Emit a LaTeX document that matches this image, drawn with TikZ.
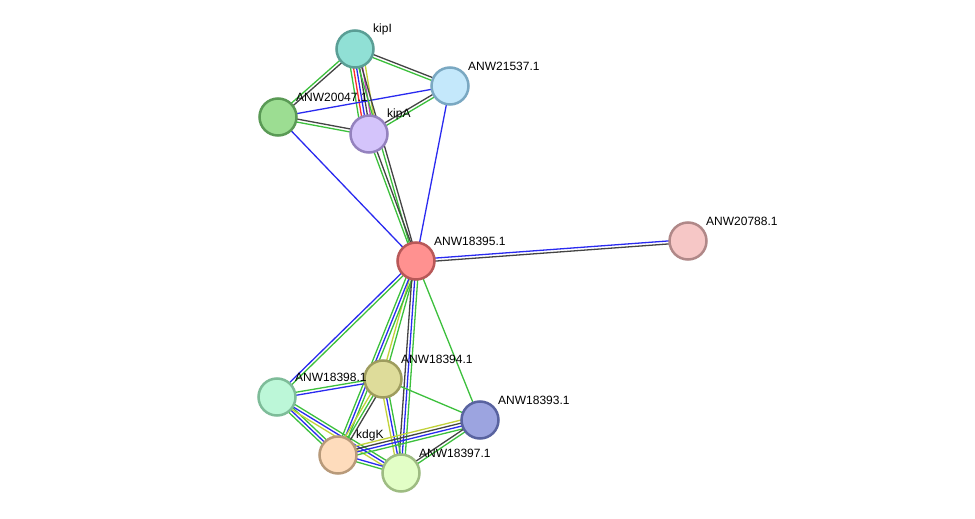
\documentclass[tikz,border=0pt]{standalone}
\usepackage{fontspec}
\setmainfont{Liberation Sans}
\usetikzlibrary{calc}
\pgfdeclarelayer{back}
\pgfdeclarelayer{bg}
\pgfsetlayers{back,bg,main}
\definecolor{eg}{HTML}{3CC03C}
\definecolor{eb}{HTML}{2A2AF0}
\definecolor{ek}{HTML}{444444}
\definecolor{ey}{HTML}{C2D23A}
\definecolor{er}{HTML}{FF2A2A}
\definecolor{em}{HTML}{C03CC0}
\tikzset{
  prot/.style={circle, minimum size=37pt, inner sep=0pt, line width=2.5pt},
  lab/.style={anchor=west, font=\fontsize{12}{13}\selectfont, inner sep=0pt},
  edgeline/.style={line width=1.3pt}
}
\newcommand\medge[4]{%
  \foreach \cc [count=\ii] in {#4} {%
    \pgfmathsetmacro\oo{(\ii-(#3+1)/2)*3}%
    \draw[edgeline, \cc] ($(#1)!\oo pt!90:(#2)$) -- ($(#2)!\oo pt!-90:(#1)$);
  }%
}
\begin{document}
\begin{tikzpicture}[x=1pt,y=-1pt]
\useasboundingbox (0,0) rectangle (975,519);
\begin{pgfonlayer}{back}
\fill[white] (0,0) rectangle (975,519);
\end{pgfonlayer}
% nodes
\node[prot, draw={rgb,255:red,90;green,158;blue,149}, fill={rgb,255:red,144;green,224;blue,213}] (kipI) at (355,49) {};
\node[prot, draw={rgb,255:red,122;green,168;blue,194}, fill={rgb,255:red,196;green,232;blue,251}] (a21537) at (450,86) {};
\node[prot, draw={rgb,255:red,90;green,154;blue,85}, fill={rgb,255:red,156;green,221;blue,146}] (a20047) at (278,117) {};
\node[prot, draw={rgb,255:red,148;green,130;blue,190}, fill={rgb,255:red,212;green,196;blue,251}] (kipA) at (369,134) {};
\node[prot, draw={rgb,255:red,184;green,88;blue,88}, fill={rgb,255:red,255;green,145;blue,144}] (a18395) at (416,261) {};
\node[prot, draw={rgb,255:red,176;green,136;blue,136}, fill={rgb,255:red,246;green,199;blue,198}] (a20788) at (688,241) {};
\node[prot, draw={rgb,255:red,158;green,156;blue,94}, fill={rgb,255:red,222;green,220;blue,154}] (a18394) at (383,379) {};
\node[prot, draw={rgb,255:red,126;green,188;blue,153}, fill={rgb,255:red,188;green,247;blue,216}] (a18398) at (277,397) {};
\node[prot, draw={rgb,255:red,89;green,99;blue,160}, fill={rgb,255:red,156;green,164;blue,224}] (a18393) at (480,420) {};
\node[prot, draw={rgb,255:red,184;green,154;blue,122}, fill={rgb,255:red,254;green,220;blue,188}] (kdgK) at (338,455) {};
\node[prot, draw={rgb,255:red,158;green,188;blue,130}, fill={rgb,255:red,226;green,254;blue,198}] (a18397) at (401,473) {};
% labels
\node[lab] (lkipI) at (373,29) {kipI};
\node[lab] (l21537) at (468,66) {ANW21537.1};
\node[lab] (l20047) at (296,97) {ANW20047.1};
\node[lab] (lkipA) at (387,114) {kipA};
\node[lab] (l18395) at (434,241) {ANW18395.1};
\node[lab] (l20788) at (706,221) {ANW20788.1};
\node[lab] (l18394) at (401,359) {ANW18394.1};
\node[lab] (l18398) at (295,377) {ANW18398.1};
\node[lab] (l18393) at (498,400) {ANW18393.1};
\node[lab] (lkdgK) at (356,435) {kdgK};
\node[lab] (l18397) at (419,453) {ANW18397.1};
% edges
\begin{pgfonlayer}{bg}
\medge{kipI}{kipA}{6}{eg,er,eb,ek,em,ey}
\medge{kipI}{a20047}{2}{eg,ek}
\medge{kipI}{a21537}{2}{eg,ek}
\medge{a20047}{a21537}{1}{eb}
\medge{a20047}{kipA}{2}{eg,ek}
\medge{kipA}{a21537}{2}{eg,ek}
\medge{a20047}{a18395}{1}{eb}
\medge{a21537}{a18395}{1}{eb}
\medge{kipI}{a18395}{2}{eg,ek}
\medge{kipA}{a18395}{2}{eg,ek}
\medge{a18395}{a20788}{2}{ek,eb}
\medge{a18395}{a18398}{2}{eb,eg}
\medge{a18395}{a18394}{2}{ey,eg}
\medge{a18395}{kdgK}{3}{eg,eb,eg}
\medge{a18395}{a18397}{3}{ek,eb,eg}
\medge{a18395}{a18393}{1}{eg}
\medge{a18398}{a18394}{2}{eb,eg}
\medge{a18398}{kdgK}{3}{eg,eb,eg}
\medge{a18398}{a18397}{3}{ey,eb,eg}
\medge{a18394}{kdgK}{3}{ey,eg,ek}
\medge{a18394}{a18397}{3}{ey,eb,eg}
\medge{a18394}{a18393}{1}{eg}
\medge{a18393}{kdgK}{4}{ey,ek,eb,eg}
\medge{a18393}{a18397}{2}{ek,eg}
\medge{kdgK}{a18397}{2}{eg,eb}
\end{pgfonlayer}
\end{tikzpicture}
\end{document}
